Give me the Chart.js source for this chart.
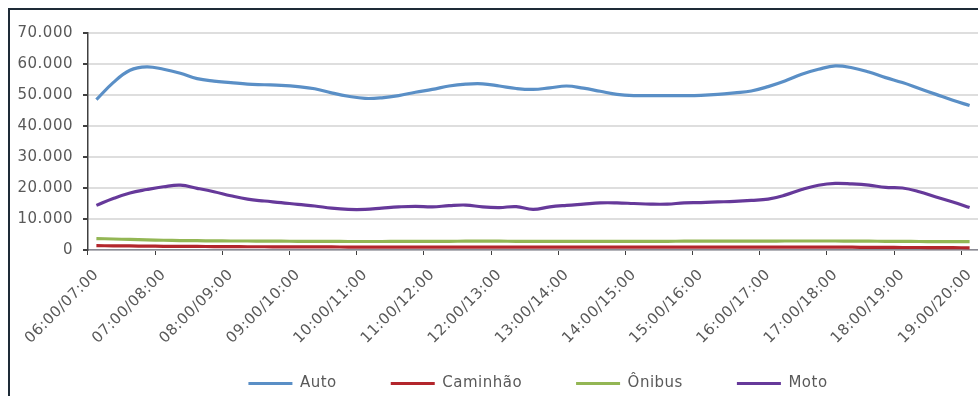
<!DOCTYPE html>
<html lang="pt-BR">
<head>
<meta charset="utf-8">
<script src="https://cdn.jsdelivr.net/npm/chart.js@4.4.1/dist/chart.umd.min.js"></script>
<style>
  html, body { margin: 0; padding: 0; background: #ffffff; overflow: hidden; }
  body { width: 978px; height: 396px; position: relative; }
  #wrap { position: absolute; left: 0; top: 0; width: 1022px; height: 396px; }
  .frame-top { position: absolute; left: 8px; top: 8px; width: 970px; height: 2px; background: #1e2b37; }
  .frame-left { position: absolute; left: 8px; top: 8px; width: 2px; height: 388px; background: #1e2b37; }
</style>
</head>
<body>
<div id="wrap"><canvas id="chart" width="1022" height="396"></canvas></div>
<div class="frame-top"></div>
<div class="frame-left"></div>
<script>
// Rolling one-hour windows, stepped every 15 minutes
const categories = [
  "06:00/07:00","06:15/07:15","06:30/07:30","06:45/07:45",
  "07:00/08:00","07:15/08:15","07:30/08:30","07:45/08:45",
  "08:00/09:00","08:15/09:15","08:30/09:30","08:45/09:45",
  "09:00/10:00","09:15/10:15","09:30/10:30","09:45/10:45",
  "10:00/11:00","10:15/11:15","10:30/11:30","10:45/11:45",
  "11:00/12:00","11:15/12:15","11:30/12:30","11:45/12:45",
  "12:00/13:00","12:15/13:15","12:30/13:30","12:45/13:45",
  "13:00/14:00","13:15/14:15","13:30/14:30","13:45/14:45",
  "14:00/15:00","14:15/15:15","14:30/15:30","14:45/15:45",
  "15:00/16:00","15:15/16:15","15:30/16:30","15:45/16:45",
  "16:00/17:00","16:15/17:15","16:30/17:30","16:45/17:45",
  "17:00/18:00","17:15/18:15","17:30/18:30","17:45/18:45",
  "18:00/19:00","18:15/19:15","18:30/19:30","18:45/19:45",
  "19:00/20:00"
];

const auto = [
  48500,54000,58000,59100,58300,57000,55300,54500,54000,53500,
  53300,53100,52700,52000,50700,49600,48900,49100,49800,50900,
  51800,52900,53500,53600,52900,52100,51800,52300,52900,52200,
  51200,50200,49800,49800,49800,49800,49900,50200,50700,51300,
  52700,54500,56700,58300,59400,58800,57400,55600,54000,52100,
  50200,48300,46600
];

const caminhao = [
  1400,1350,1300,1250,1200,1150,1150,1100,1100,1050,
  1050,1000,1000,1000,1000,950,950,950,950,950,
  950,950,950,950,950,950,950,950,950,950,
  950,950,950,950,950,950,950,950,950,950,
  950,950,900,900,900,900,850,850,800,800,
  750,750,700
];

const onibus = [
  3700,3550,3400,3250,3150,3050,3000,2950,2900,2900,
  2850,2850,2800,2800,2800,2750,2750,2750,2800,2800,
  2800,2800,2850,2850,2850,2800,2800,2800,2800,2800,
  2800,2800,2800,2800,2800,2850,2850,2850,2850,2850,
  2850,2900,2900,2900,2900,2850,2850,2800,2800,2750,
  2700,2700,2700
];

const moto = [
  14400,16600,18400,19500,20400,20900,19900,18800,17500,16400,
  15800,15300,14700,14200,13500,13100,13100,13500,13900,14100,
  13900,14300,14500,13900,13700,14000,13100,13900,14400,14800,
  15200,15200,15000,14800,14800,15200,15300,15500,15700,16000,
  16400,17700,19500,20900,21500,21300,20900,20200,20000,18800,
  17100,15500,13700
];

const seriesNames = ["Auto", "Caminhão", "Ônibus", "Moto"];
const seriesColors = ["#5a8fc6", "#b3262c", "#93b654", "#66399a"];

const textColor = "#595959";
const fontFamily = "'DejaVu Sans', sans-serif";

function fmtThousands(v) {
  return String(Math.round(v)).replace(/\B(?=(\d{3})+(?!\d))/g, ".");
}

// Slightly open letter spacing for every canvas label
const spacingPlugin = {
  id: "spacing",
  beforeUpdate(chart) { chart.ctx.letterSpacing = "0.5px"; },
  beforeDraw(chart) { chart.ctx.letterSpacing = "0.5px"; }
};

const lineStyle = (label, data, color) => ({
  label, data,
  borderColor: color,
  backgroundColor: color,
  borderWidth: 3.2,
  pointRadius: 0,
  tension: 0.4,
  fill: false
});

new Chart(document.getElementById("chart"), {
  type: "line",
  data: {
    labels: categories,
    datasets: [
      lineStyle(seriesNames[0], auto, seriesColors[0]),
      lineStyle(seriesNames[1], caminhao, seriesColors[1]),
      lineStyle(seriesNames[2], onibus, seriesColors[2]),
      lineStyle(seriesNames[3], moto, seriesColors[3])
    ]
  },
  options: {
    responsive: false,
    animation: false,
    devicePixelRatio: 1,
    layout: { padding: { left: 10, top: 33, right: 0, bottom: -5 } },
    plugins: {
      tooltip: { enabled: false },
      legend: {
        position: "bottom",
        labels: {
          color: textColor,
          font: { family: fontFamily, size: 15 },
          usePointStyle: true,
          pointStyle: "dash",
          pointStyleWidth: 88,
          boxHeight: 3,
          padding: 10,
          generateLabels(chart) {
            return chart.data.datasets.map((ds, i) => ({
              text: ds.label,
              fillStyle: ds.borderColor,
              strokeStyle: ds.borderColor,
              lineWidth: 3,
              pointStyle: "dash",
              fontColor: textColor,
              datasetIndex: i,
              hidden: false
            }));
          }
        }
      }
    },
    scales: {
      x: {
        type: "category",
        offset: true,
        afterFit(scale) { scale.height = 116; },
        grid: {
          display: true,
          offset: true,
          drawOnChartArea: false,
          tickLength: 5,
          tickColor: (ctx) => (ctx.index !== undefined && ctx.index % 4 === 0) ? "#404040" : "rgba(0,0,0,0)"
        },
        border: { display: true, color: "#8a8a94", width: 1.5 },
        ticks: {
          autoSkip: false,
          maxRotation: 45,
          minRotation: 45,
          padding: 11,
          color: textColor,
          font: { family: fontFamily, size: 15 },
          callback(value, index) { return index % 4 === 0 ? categories[index] : ""; }
        }
      },
      y: {
        min: 0,
        max: 70000,
        afterFit(scale) { scale.width = 78; },
        grid: {
          color: "#dedede",
          lineWidth: 2,
          tickLength: 5,
          tickColor: "#404040"
        },
        border: { display: true, color: "#404040", width: 1.5 },
        ticks: {
          stepSize: 10000,
          padding: 10,
          color: textColor,
          font: { family: fontFamily, size: 15 },
          callback(value) { return fmtThousands(value); }
        }
      },
      yR: {
        position: "right",
        display: true,
        afterFit(scale) { scale.width = 44; },
        grid: { display: false },
        border: { display: false },
        ticks: { display: false }
      }
    }
  },
  plugins: [spacingPlugin]
});
</script>
</body>
</html>
